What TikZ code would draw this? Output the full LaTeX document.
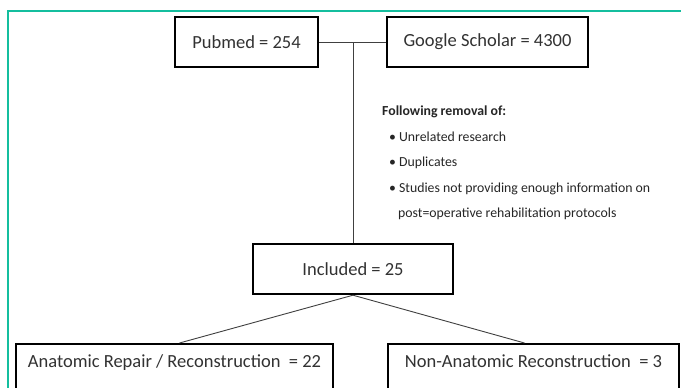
\documentclass[tikz,border=0pt]{standalone}
\usepackage{fontspec}
\setmainfont{Carlito}
\usepackage{tikz}
\usetikzlibrary{positioning}
\definecolor{frameteal}{RGB}{20,190,158}
\definecolor{inktext}{RGB}{50,50,50}

\begin{document}
\begin{tikzpicture}[x=1pt,y=-1pt,
  box/.style={draw=black,line width=2.4pt,fill=white,text=inktext,
    font=\fontsize{18.5}{20}\selectfont,inner sep=0pt},
  link/.style={draw=black!75,line width=0.9pt}]
  \clip (0,0) rectangle (681,388);
  \useasboundingbox (0,0) rectangle (681,388);
  \fill[white] (0,0) rectangle (681,388);
  \draw[frameteal,line width=1.6pt] (8,400)--(8,11)--(700,11);
  \node[box,minimum width=143pt,minimum height=50pt] (pub) at (246.5,42) {Pubmed = 254};
  \node[box,minimum width=201pt,minimum height=50pt] (gs) at (487.5,42) {Google Scholar = 4300};
  \node[box,minimum width=200pt,minimum height=50pt] (inc) at (353,269) {Included = 25};
  \node[box,anchor=north,minimum width=317pt,text height=23pt,text depth=34pt] (ana) at (174.5,343)
    {Anatomic Repair / Reconstruction \ = 22};
  \node[box,anchor=north,minimum width=291pt,text height=23pt,text depth=34pt] (nonana) at (533.5,343)
    {Non-Anatomic Reconstruction \ = 3};
  \coordinate (join) at (353,42);
  \draw[link] (pub.east)--(gs.west);
  \draw[link] (join)--(inc.north);
  \draw[link] (inc.south)--([xshift=5pt]ana.north);
  \draw[link] (inc.south)--([xshift=-9pt]nonana.north);
  \node[anchor=north west,inner sep=0pt,align=left,text=black!85,
    font=\fontsize{13.8}{25.5}\selectfont] (removal) at (382,106)
    {\textbf{Following removal of:}\\
     \hspace*{7pt}\textbullet\hspace{3pt}Unrelated research\\
     \hspace*{7pt}\textbullet\hspace{3pt}Duplicates\\
     \hspace*{7pt}\textbullet\hspace{3pt}Studies not providing enough information on\\
     \hspace*{16pt}post=operative rehabilitation protocols};
\end{tikzpicture}
\end{document}
